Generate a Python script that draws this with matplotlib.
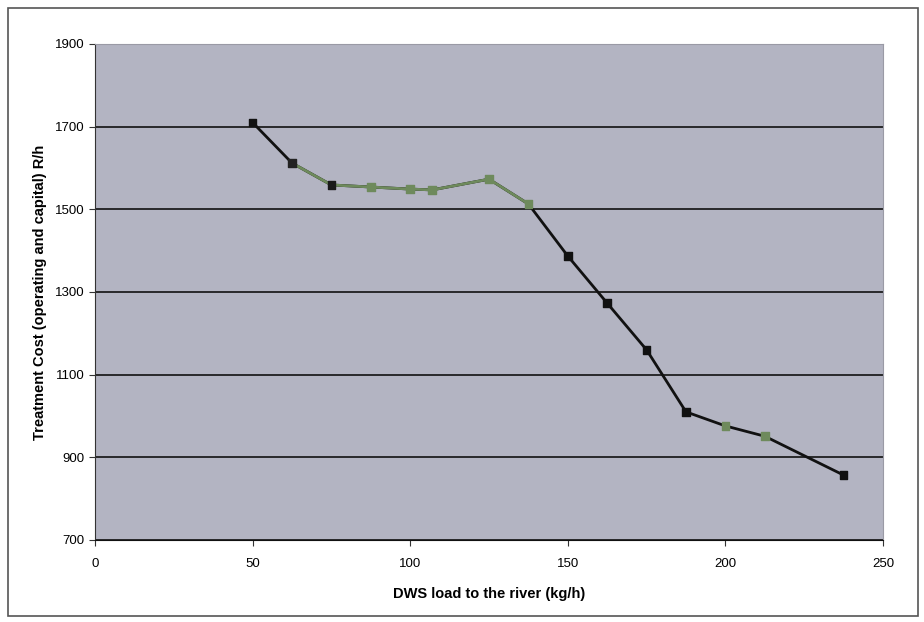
import matplotlib.pyplot as plt
from matplotlib.patches import Rectangle

load = [50, 62.5, 75, 87.5, 100, 107, 125, 137.5, 150, 162.5, 175, 187.5, 200, 212.5, 237.5]
cost = [1710, 1612, 1559, 1554, 1549, 1547, 1573, 1513, 1387, 1273, 1160, 1010, 976, 951, 857]

green_from, green_to = 1, 7  # segment range drawn greenish in the scan
green = '#6e8a5c'
marker_cols = ['#111111', '#222222', '#1a1a1a', green, green, green, green, green,
               '#111111', '#111111', '#111111', '#111111', green, green, '#111111']

plt.rcParams['font.family'] = ['Liberation Sans', 'DejaVu Sans']

fig = plt.figure(figsize=(9.24, 6.22), dpi=100)
ax = fig.add_axes([95 / 924, 1 - 540 / 622, (883 - 95) / 924, (540 - 44) / 622])
ax.set_facecolor('#b3b4c2')

ax.plot(load, cost, color='#111111', linewidth=2, zorder=3)
ax.plot(load[green_from:green_to + 1], cost[green_from:green_to + 1],
        color=green, linewidth=2, zorder=4)
ax.scatter(load, cost, marker='s', s=30, c=marker_cols, zorder=5)

ax.set_xlim(0, 250)
ax.set_ylim(700, 1900)
ax.set_xticks(range(0, 251, 50))
ax.set_yticks(range(700, 1901, 200))
ax.yaxis.grid(True, color='#111111', linewidth=1.2)
ax.set_axisbelow(True)
ax.tick_params(labelsize=9.5, length=4, color='#333333')
ax.tick_params(axis='x', pad=9)

for s in ['top', 'right']:
    ax.spines[s].set_color('#9a9aa5')
ax.spines['left'].set_color('#333333')
ax.spines['bottom'].set_color('#111111')

ax.set_xlabel('DWS load to the river (kg/h)', fontsize=10.5, fontweight='bold', labelpad=12)
ax.set_ylabel('Treatment Cost (operating and capital) R/h', fontsize=10.5,
              fontweight='bold', labelpad=6)

fig.patches.append(Rectangle((8 / 924, 1 - 616 / 622), 910 / 924, 608 / 622,
                             transform=fig.transFigure, fill=False,
                             edgecolor='#555555', linewidth=1.2))

fig.savefig('out.png', dpi=100)
